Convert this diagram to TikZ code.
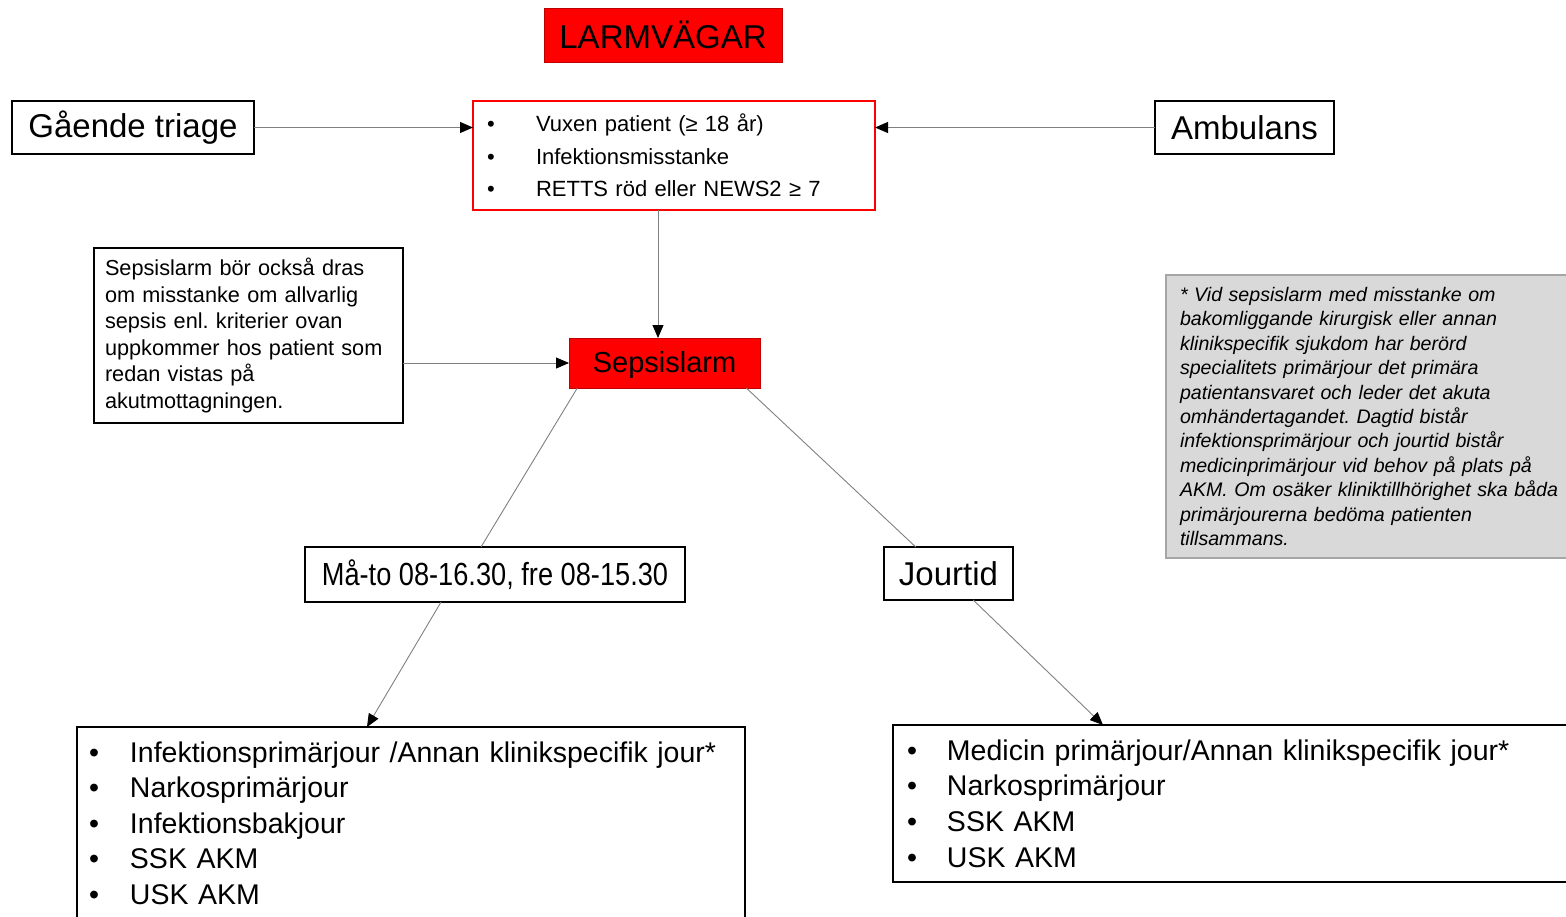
\documentclass[tikz,border=0pt]{standalone}
\usepackage{fontspec}
\setmainfont{Liberation Sans}
\newfontfamily\narrowfont[FakeStretch=0.85]{Liberation Sans}
\usetikzlibrary{arrows.meta,calc}
\frenchspacing
\definecolor{alarmred}{RGB}{255,0,0}
\definecolor{notegray}{RGB}{217,217,217}
\definecolor{noteframe}{RGB}{166,166,166}
\definecolor{linkgray}{RGB}{128,128,128}
\newcommand{\itm}[2]{\makebox[#1][l]{\textbullet}#2}
\tikzset{
  plainbox/.style={draw=black, line width=1.2pt, fill=white, inner sep=0pt, outer sep=0pt, align=center},
  alarmbox/.style={draw=red!75!black, line width=0.8pt, fill=alarmred, inner sep=0pt, outer sep=0pt, align=center},
  flow/.style={draw=linkgray, line width=0.9pt, -{Triangle[length=13pt,width=11pt,color=black]}},
  link/.style={draw=linkgray, line width=0.9pt},
  bigtext/.style={font=\fontsize{33}{40}\selectfont}
}
\begin{document}
\begin{tikzpicture}[x=1pt,y=-1pt]
  \useasboundingbox (0,0) rectangle (1566,916);
  \clip (0,0) rectangle (1566,916);
  % top row
  \node[alarmbox, bigtext, minimum width=238pt, minimum height=54pt] (title) at (663,35) {LARMVÄGAR};
  \node[plainbox, bigtext, minimum width=242pt, minimum height=53pt] (triage) at (133,127.5) {Gående triage};
  \node[plainbox, bigtext, minimum width=179pt, minimum height=53pt] (amb) at (1244.5,127.5) {Ambulans};
  \node[plainbox, draw=red, align=left, text width=374pt, inner xsep=14pt, minimum height=109pt,
        font=\fontsize{22}{32.5}\selectfont] (crit) at (674,155.5)
        {\itm{49pt}{Vuxen patient (≥ 18 år)}\\
         \itm{49pt}{Infektionsmisstanke}\\
         \itm{49pt}{RETTS röd eller NEWS2 ≥ 7}};
  % alarm and side notes
  \node[alarmbox, minimum width=191pt, minimum height=50pt, text height=23pt, text depth=4pt,
        font=\fontsize{29}{35}\selectfont] (sep) at (664.5,363) {Sepsislarm};
  \node[plainbox, align=left, text width=287pt, inner xsep=11pt, minimum height=175pt,
        font=\fontsize{21.7}{26.6}\selectfont] (note) at (248.5,335.5)
        {Sepsislarm bör också dras\\ om misstanke om allvarlig\\ sepsis enl. kriterier ovan\\
         uppkommer hos patient som\\ redan vistas på\\ akutmottagningen.};
  \node[draw=noteframe, fill=notegray, line width=1.2pt, inner sep=0pt, align=left, text width=392pt,
        inner xsep=14pt, minimum height=283pt, font=\fontsize{19.6}{24.4}\selectfont\itshape] (remark) at (1376,416.5)
        {* Vid sepsislarm med misstanke om\\ bakomliggande kirurgisk eller annan\\
         klinikspecifik sjukdom har berörd\\ specialitets primärjour det primära\\
         patientansvaret och leder det akuta\\ omhändertagandet. Dagtid bistår\\
         infektionsprimärjour och jourtid bistår\\ medicinprimärjour vid behov på plats på\\
         AKM. Om osäker kliniktillhörighet ska båda\\ primärjourerna bedöma patienten\\ tillsammans.};
  % time of day
  \node[plainbox, minimum width=380pt, minimum height=55pt,
        font={\narrowfont\fontsize{32}{38}\selectfont}] (day) at (495,574.5) {Må-to 08-16.30, fre 08-15.30};
  \node[plainbox, bigtext, minimum width=129pt, minimum height=53pt] (jour) at (948.5,573.5) {Jourtid};
  % who is called
  \node[plainbox, anchor=north west, align=left, text width=644pt, inner xsep=12pt, minimum height=192pt,
        font=\fontsize{28.5}{35.5}\selectfont] (listL) at (77,727)
        {\itm{41pt}{Infektionsprimärjour /Annan klinikspecifik jour*}\\
         \itm{41pt}{Narkosprimärjour}\\
         \itm{41pt}{Infektionsbakjour}\\
         \itm{41pt}{SSK AKM}\\
         \itm{41pt}{USK AKM}};
  \node[plainbox, anchor=north west, align=left, text width=700pt, inner xsep=14pt, minimum height=157pt,
        font=\fontsize{28.5}{35.7}\selectfont] (listR) at (893,725)
        {\itm{40pt}{Medicin primärjour/Annan klinikspecifik jour*}\\
         \itm{40pt}{Narkosprimärjour}\\
         \itm{40pt}{SSK AKM}\\
         \itm{40pt}{USK AKM}};
  % connectors
  \draw[flow] (triage.east) -- (crit.west |- triage.east);
  \draw[flow] (amb.west) -- (crit.east |- amb.west);
  \draw[flow] ([xshift=-16pt]crit.south) -- ([xshift=-6.5pt]sep.north);
  \draw[flow] (note.east |- sep.west) -- (sep.west);
  \draw[link] (sep.196.9) -- (day.117);
  \draw[link] (sep.-17.25) -- (jour.141.7);
  \draw[flow] (day.207.9) -- ([xshift=290pt]listL.north west);
  \draw[flow] (jour.-47.2) -- ([xshift=210pt]listR.north west);
\end{tikzpicture}
\end{document}
